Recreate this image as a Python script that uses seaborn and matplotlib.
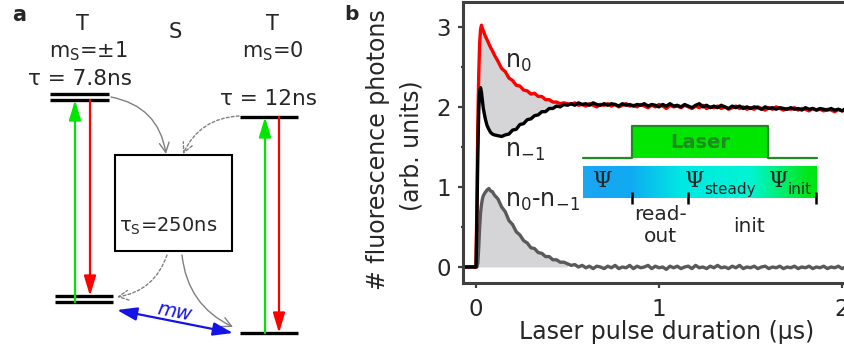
import numpy as np
import pandas as pd
import matplotlib
matplotlib.use("Agg")
import matplotlib.pyplot as plt
import seaborn as sns
from matplotlib.colors import LinearSegmentedColormap
from matplotlib.patches import Rectangle

# ---------------- data: fluorescence vs. laser pulse duration ----------------
t_rise = [-0.07, 0.0, 0.005, 0.01, 0.015, 0.02, 0.025, 0.03, 0.035, 0.04,
          0.05, 0.06, 0.07, 0.08, 0.09, 0.10,
          0.12, 0.14, 0.16, 0.18, 0.20, 0.22, 0.24, 0.26, 0.28, 0.30,
          0.32, 0.34, 0.36, 0.38, 0.40, 0.42, 0.44, 0.46, 0.48]
t_tail = np.linspace(0.50, 2.10, 81)

n0_rise = [0, 0, 0.8, 1.8, 2.4, 2.8, 2.97, 3.02, 2.98, 2.95,
           2.89, 2.84, 2.79, 2.74, 2.70, 2.65,
           2.57, 2.48, 2.44, 2.36, 2.33, 2.27, 2.26, 2.21, 2.20, 2.16,
           2.17, 2.13, 2.13, 2.09, 2.09, 2.06, 2.06, 2.04, 2.05]
n0_tail = [2.04, 2.03, 2.05, 2.02, 2.03, 2.01, 2.04, 2.02, 2.00, 2.03,
           2.02, 2.04, 2.01, 2.03, 2.00, 2.02, 2.04, 2.01, 2.02, 2.00,
           2.03, 2.01, 1.99, 2.02, 2.00, 2.03, 2.01, 1.98, 2.02, 2.00,
           2.01, 1.99, 2.02, 2.00, 1.98, 2.01, 1.99, 2.02, 1.98, 2.00,
           1.99, 2.01, 1.98, 2.00, 1.97, 1.99, 2.01, 1.98, 2.00, 1.97,
           1.99, 1.97, 2.00, 1.98, 1.96, 1.99, 1.97, 2.00, 1.98, 1.96,
           1.98, 1.97, 1.99, 1.96, 1.98, 1.97, 1.95, 1.98, 1.96, 1.97,
           1.95, 1.97, 1.96, 1.94, 1.97, 1.95, 1.96, 1.94, 1.96, 1.95,
           1.96]

n1_rise = [0, 0, 0.6, 1.4, 1.95, 2.2, 2.24, 2.18, 2.08, 1.98,
           1.86, 1.77, 1.72, 1.68, 1.66, 1.65,
           1.64, 1.63, 1.65, 1.66, 1.71, 1.72, 1.78, 1.79, 1.84, 1.85,
           1.89, 1.90, 1.94, 1.94, 1.98, 1.98, 2.01, 2.00, 2.03]
n1_tail = [2.02, 2.04, 2.02, 2.05, 2.03, 2.04, 2.02, 2.05, 2.03, 2.02,
           2.04, 2.02, 2.04, 2.03, 2.01, 2.04, 2.02, 2.03, 2.01, 2.03,
           2.02, 2.04, 2.01, 2.03, 2.02, 2.00, 2.03, 2.01, 2.04, 2.01,
           2.02, 2.00, 2.03, 2.01, 1.99, 2.02, 2.04, 2.00, 2.02, 1.99,
           2.01, 1.99, 2.02, 2.00, 1.98, 2.01, 1.99, 2.01, 1.98, 2.00,
           1.98, 2.00, 1.99, 1.97, 2.00, 1.98, 1.99, 1.97, 1.99, 1.98,
           1.97, 1.99, 1.97, 1.98, 1.96, 1.99, 1.97, 1.98, 1.96, 1.98,
           1.97, 1.96, 1.98, 1.96, 1.97, 1.95, 1.98, 1.96, 1.97, 1.96,
           1.97]

diff_rise = [0, 0, 0, 0.05, 0.25, 0.50, 0.68, 0.78, 0.85, 0.89,
             0.93, 0.96, 0.98, 0.95, 0.94, 0.90,
             0.85, 0.75, 0.69, 0.58, 0.53, 0.44, 0.40, 0.33, 0.30, 0.24,
             0.23, 0.18, 0.17, 0.13, 0.13, 0.09, 0.09, 0.06, 0.06]
diff_tail = [0.04, 0.02, 0.03, 0.00, 0.02, -0.01, 0.01, -0.02, 0.01, 0.00,
             -0.02, 0.01, -0.01, 0.02, -0.02, 0.00, -0.01, 0.02, -0.02, 0.01,
             -0.01, 0.00, 0.02, -0.02, 0.01, -0.01, 0.00, -0.03, 0.01, -0.01,
             0.01, -0.02, 0.00, 0.01, -0.02, 0.02, -0.01, 0.00, -0.02, 0.01,
             -0.01, 0.02, -0.01, 0.00, -0.02, 0.01, -0.01, 0.02, -0.02, 0.00,
             -0.01, 0.01, -0.02, 0.00, 0.01, -0.02, 0.00, -0.01, 0.01, -0.02,
             0.00, -0.01, 0.01, -0.02, 0.00, -0.01, 0.01, -0.02, 0.00, -0.01,
             0.01, -0.02, 0.00, -0.01, 0.01, -0.02, 0.00, -0.01, -0.02, 0.00,
             -0.01]

x_ticks = [0, 1, 2]
y_ticks = [0, 1, 2, 3]

# lifetimes quoted in the level scheme
tau_pm1 = "7.8ns"
tau_0 = "12ns"
tau_singlet = "250ns"

t = np.concatenate([t_rise, t_tail])
n0 = np.concatenate([n0_rise, n0_tail])
n1 = np.concatenate([n1_rise, n1_tail])
dn = np.concatenate([diff_rise, diff_tail])

df = pd.concat([
    pd.DataFrame({"t": t, "value": dn, "series": "n0-n-1"}),
    pd.DataFrame({"t": t, "value": n0, "series": "n0"}),
    pd.DataFrame({"t": t, "value": n1, "series": "n-1"}),
])

# ---------------- style ----------------
sns.set_theme(style="ticks")
plt.rcParams["font.family"] = ["DejaVu Sans"]
plt.rcParams["mathtext.default"] = "regular"

RED = "#ff0000"
GREEN = "#00e600"
BLUE = "#1414e6"
GREY_ARROW = "#808080"
AX_COL = "#404040"
FILL = "#d5d5d8"

fig = plt.figure(figsize=(8.44, 3.54), dpi=100)

# ---------------- panel a: level scheme (pixel-like coordinates) ----------------
axs = fig.add_axes([0, 0, 1, 1])
axs.set_xlim(0, 844)
axs.set_ylim(354, 0)
axs.axis("off")

def level(x0, x1, y):
    axs.plot([x0, x1], [y, y], color="black", lw=2.4, solid_capstyle="butt")

level(50, 109, 94); level(50, 109, 100)
level(240, 298, 117)
level(55, 113, 296); level(55, 113, 302)
level(240, 298, 333)

axs.add_patch(Rectangle((115, 155), 117, 96, fill=False, ec="black", lw=1.5))

def vert_arrow(x, y_from, y_to, color):
    axs.annotate("", xy=(x, y_to), xytext=(x, y_from),
                 arrowprops=dict(arrowstyle="-|>,head_length=0.6,head_width=0.18",
                                 color=color, lw=1.6, shrinkA=0, shrinkB=0,
                                 mutation_scale=20))

vert_arrow(75, 302, 100, GREEN)
vert_arrow(90, 100, 296, RED)
vert_arrow(265, 333, 117, GREEN)
vert_arrow(279, 117, 333, RED)

def isc_arrow(p_from, p_to, rad, dotted):
    axs.annotate("", xy=p_to, xytext=p_from,
                 arrowprops=dict(arrowstyle="->,head_length=0.7,head_width=0.35",
                                 color=GREY_ARROW, lw=1.0,
                                 linestyle=(0, (2, 1.6)) if dotted else "-",
                                 connectionstyle=f"arc3,rad={rad}",
                                 shrinkA=0, shrinkB=0, mutation_scale=10))

isc_arrow((111, 97), (166, 154), -0.35, False)
isc_arrow((239, 116), (183, 154), 0.3, True)
isc_arrow((167, 255), (117, 297), -0.3, True)
isc_arrow((182, 255), (233, 327), 0.28, False)

axs.annotate("", xy=(233, 333), xytext=(117, 310),
             arrowprops=dict(arrowstyle="<|-|>,head_length=0.6,head_width=0.2",
                             color=BLUE, lw=1.6, shrinkA=0, shrinkB=0,
                             mutation_scale=20))
axs.text(175, 312, "mw", color=BLUE, fontsize=14, rotation=-11,
         ha="center", va="center", style="italic")

axs.text(19, 15, "a", fontsize=15, fontweight="bold", ha="center", va="center")
axs.text(82, 30, "T", fontsize=15, ha="center", va="baseline")
axs.text(175, 38, "S", fontsize=15, ha="center", va="baseline")
axs.text(272, 30, "T", fontsize=15, ha="center", va="baseline")
axs.text(88, 57, "m$_{S}$=±1", fontsize=15, ha="center", va="baseline")
axs.text(273, 57, "m$_{S}$=0", fontsize=15, ha="center", va="baseline")
axs.text(80, 85, "τ = " + tau_pm1, fontsize=15.5, ha="center", va="baseline")
axs.text(268, 105, "τ = " + tau_0, fontsize=15.5, ha="center", va="baseline")
axs.text(168, 232, "τ$_{S}$=" + tau_singlet, fontsize=14, ha="center", va="baseline")

# ---------------- panel b: fluorescence traces ----------------
L, B = 463 / 844, 1 - 283 / 354
ax = fig.add_axes([L, B, (1.02 * 844 - 463) / 844, 281 / 354])
ax.set_facecolor("none")

rise_mask = (t >= 0) & (t <= 0.44)
ax.fill_between(t[rise_mask], n1[rise_mask], n0[rise_mask], color=FILL, lw=0, zorder=1)
dmask = (t >= 0) & (t <= 0.50)
ax.fill_between(t[dmask], 0, dn[dmask], color=FILL, lw=0, zorder=1)

sns.lineplot(data=df, x="t", y="value", hue="series",
             hue_order=["n0-n-1", "n0", "n-1"],
             palette={"n0-n-1": "#5a5a5a", "n0": RED, "n-1": "black"},
             estimator=None, sort=False, linewidth=2.4, legend=False, ax=ax,
             zorder=2)

ax.text(0.158, 2.49, "n$_{0}$", fontsize=17, ha="left", va="baseline")
ax.text(0.158, 1.38, "n$_{-1}$", fontsize=17, ha="left", va="baseline")
ax.text(0.158, 0.75, "n$_{0}$-n$_{-1}$", fontsize=17, ha="left", va="baseline")

# laser pulse sketch
x_on, x_off, x_start, x_end = 0.854, 1.597, 0.586, 1.862
ax.fill_between([x_on, x_off], 1.366, 1.766, color=GREEN, lw=0, zorder=3)
ax.plot([x_start, x_on, x_on, x_off, x_off, x_end],
        [1.366, 1.366, 1.766, 1.766, 1.366, 1.366],
        color="#1e8c1e", lw=1.6, zorder=4)
ax.text((x_on + x_off) / 2, 1.56, "Laser", color="#1e8c1e", fontsize=14,
        fontweight="bold", ha="center", va="center", zorder=5)

# state bar with colour gradient
state_cmap = LinearSegmentedColormap.from_list(
    "state", [(0.0, "#1ba6f2"), (0.2, "#10aaf2"), (0.42, "#00e8e4"),
              (0.72, "#00f5d2"), (0.97, "#00e614"), (1.0, "#00e614")])
ax.imshow(np.linspace(0, 1, 256)[None, :], cmap=state_cmap, aspect="auto",
          extent=[0.585, 1.862, 0.8625, 1.25], zorder=3)

for xm in [0.852, 1.160, 1.858]:
    ax.plot([xm, xm], [0.94, 0.79], color="black", lw=1.8, zorder=4,
            solid_capstyle="butt")

psi_font = dict(family=["DejaVu Serif"], fontsize=16, va="baseline", zorder=5)
ax.text(0.638, 1.0, "Ψ", ha="left", **psi_font)
ax.text(1.142, 1.0, "Ψ", ha="left", **psi_font)
ax.text(1.603, 1.0, "Ψ", ha="left", **psi_font)
ax.text(1.246, 0.91, "steady", fontsize=11, ha="left", va="baseline", zorder=5)
ax.text(1.705, 0.91, "init", fontsize=11, ha="left", va="baseline", zorder=5)

ax.text(1.01, 0.59, "read-", fontsize=14.5, ha="center", va="baseline")
ax.text(1.01, 0.31, "out", fontsize=14.5, ha="center", va="baseline")
ax.text(1.49, 0.44, "init", fontsize=14.5, ha="center", va="baseline")

ax.set_xlim(-0.071, 2.103)
ax.set_ylim(-0.2, 3.31)
ax.set_xticks(x_ticks)
ax.set_xticks([0.5, 1.5], minor=True)
ax.set_yticks(y_ticks)
ax.set_yticks([0.5, 1.5, 2.5], minor=True)
ax.set_xlabel("")
ax.set_ylabel("")
ax.tick_params(which="major", direction="out", length=3.6, width=1.6,
               color=AX_COL, labelsize=16.5, pad=5)
ax.tick_params(axis="x", which="major", pad=7)
ax.tick_params(which="minor", direction="out", length=1.6, width=1.6, color=AX_COL)
for sp in ax.spines.values():
    sp.set_color(AX_COL)
    sp.set_linewidth(2.2)

fig.text(351 / 844, 1 - 14 / 354, "b", fontsize=14.5, fontweight="bold",
         ha="center", va="center")
fig.text(378 / 844, 1 - 150 / 354, "# fluorescence photons", fontsize=17,
         rotation=90, ha="center", va="center")
fig.text(412 / 844, 1 - 146 / 354, "(arb. units)", fontsize=17,
         rotation=90, ha="center", va="center")
fig.text(667 / 844, 1 - 332 / 354, "Laser pulse duration (µs)", fontsize=17,
         ha="center", va="center")

fig.savefig("out.png", dpi=100)
